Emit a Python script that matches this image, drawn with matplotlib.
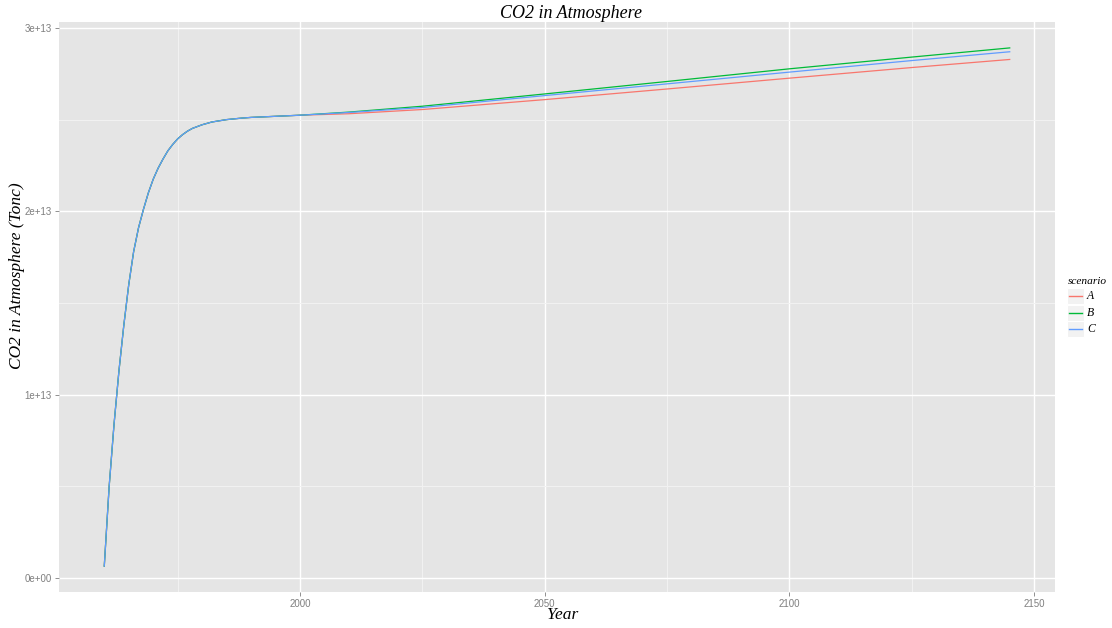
import numpy as np
import matplotlib.pyplot as plt
from matplotlib.lines import Line2D
from matplotlib.patches import Rectangle

# values (units of 1e13 tonnes of carbon)
years_hist = [1960, 1961, 1962, 1963, 1964, 1965, 1966, 1967, 1968, 1969,
              1970, 1971, 1972, 1973, 1974, 1975, 1976, 1977, 1978, 1980,
              1982, 1985, 1988, 1990, 1995]
co2_hist = [0.065, 0.50, 0.84, 1.13, 1.38, 1.60, 1.78, 1.91, 2.01, 2.10,
            2.175, 2.235, 2.285, 2.33, 2.365, 2.395, 2.418, 2.437, 2.452, 2.472,
            2.487, 2.500, 2.508, 2.512, 2.518]

years_future = [2000, 2010, 2025, 2050, 2075, 2100, 2125, 2145]
co2_a = [2.524, 2.532, 2.555, 2.609, 2.667, 2.726, 2.784, 2.828]
co2_b = [2.524, 2.541, 2.573, 2.640, 2.708, 2.777, 2.841, 2.891]
co2_c = [2.524, 2.539, 2.566, 2.631, 2.695, 2.759, 2.822, 2.870]

scenarios = ['A', 'B', 'C']
colours = ['#F8766D', '#00BA38', '#619CFF']

year = np.array(years_hist + years_future)
series = [np.array(co2_hist + s) * 1e13 for s in (co2_a, co2_b, co2_c)]

serif = ['Liberation Serif', 'DejaVu Serif']
sans = ['Liberation Sans', 'DejaVu Sans']

fig = plt.figure(figsize=(11.12, 6.28), dpi=100)
ax = fig.add_axes([59/1112, 1 - 592/628, (1055 - 59)/1112, (592 - 22)/628])
ax.set_facecolor('#E5E5E5')
for s in ax.spines.values():
    s.set_visible(False)

for sc, col, vals in zip(scenarios, colours, series):
    ax.plot(year, vals, color=col, lw=0.9, label=sc, zorder=3)

span = year.max() - year.min()
ax.set_xlim(year.min() - 0.05*span, year.max() + 0.05*span)
ymin = min(v.min() for v in series)
ymax = max(v.max() for v in series)
ax.set_ylim(ymin - 0.05*(ymax - ymin), ymax + 0.05*(ymax - ymin))

ax.set_xticks([2000, 2050, 2100, 2150])
ax.set_xticks([1975, 2025, 2075, 2125], minor=True)
ax.set_yticks([0, 1e13, 2e13, 3e13])
ax.set_yticklabels(['0e+00', '1e+13', '2e+13', '3e+13'])
ax.set_yticks([0.5e13, 1.5e13, 2.5e13], minor=True)
ax.grid(which='major', color='white', lw=1.0, zorder=1)
ax.grid(which='minor', color='#F2F2F2', lw=0.7, zorder=1)
ax.set_axisbelow(True)
ax.tick_params(which='major', length=3, width=0.6, color='#7F7F7F',
               labelcolor='#7F7F7F', labelsize=7, pad=2)
ax.tick_params(which='minor', length=0)
for lab in ax.get_xticklabels() + ax.get_yticklabels():
    lab.set_family(sans)

fig.text(571/1112, 1 - 13/628, 'CO2 in Atmosphere', family=serif, style='italic',
         size=13, ha='center', va='center')
fig.text(563/1112, 1 - 615/628, 'Year', family=serif, style='italic',
         size=12.5, ha='center', va='center')
fig.text(17/1112, 1 - 276/628, 'CO2 in Atmosphere (Tonc)', family=serif,
         style='italic', size=12.5, rotation=90, ha='center', va='center')

# legend drawn by hand (grey key boxes like ggplot)
fig.text(1068/1112, 1 - 281/628, 'scenario', family=serif, style='italic',
         size=8.2, ha='left', va='center')
for k, (sc, col) in enumerate(zip(scenarios, colours)):
    yc = 296 + 16.7*k
    fig.add_artist(Rectangle((1067/1112, 1 - (yc + 8)/628), 17/1112, 16/628,
                             transform=fig.transFigure, facecolor='#F2F2F2',
                             edgecolor='white', lw=0.8))
    fig.add_artist(Line2D([1069/1112, 1082/1112], [1 - yc/628, 1 - yc/628],
                          transform=fig.transFigure, color=col, lw=1.0))
    fig.text(1087/1112, 1 - yc/628, sc, family=serif, style='italic',
             size=8.5, ha='left', va='center')

fig.savefig('out.png', dpi=100)
